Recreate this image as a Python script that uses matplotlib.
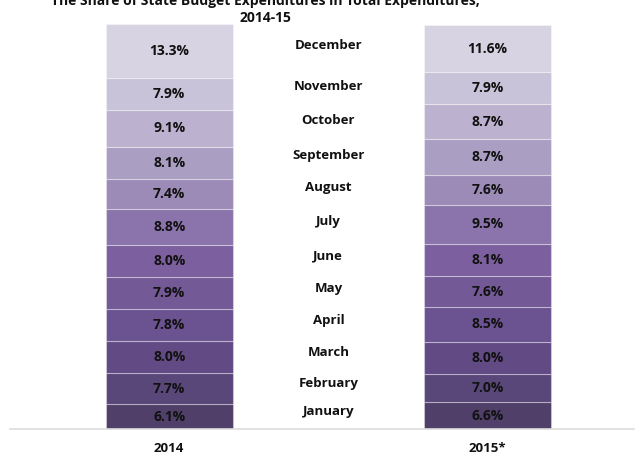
import matplotlib
matplotlib.use("Agg")
import matplotlib.pyplot as plt
import numpy as np

MONTHS = ["January", "February", "March", "April", "May", "June",
          "July", "August", "September", "October", "November", "December"]
YEARS = ["2014", "2015*"]
SHARE_2014 = [6.1, 7.7, 8.0, 7.8, 7.9, 8.0, 8.8, 7.4, 8.1, 9.1, 7.9, 13.3]
SHARE_2015 = [6.6, 7.0, 8.0, 8.5, 7.6, 8.1, 9.5, 7.6, 8.7, 8.7, 7.9, 11.6]
COLORS = ["#4f3f69", "#5a477a", "#624a85", "#6b5290", "#735995", "#7c5f9e",
          "#8b74ab", "#9d8bb7", "#aa9ec2", "#bcb2cf", "#c9c3d9", "#d7d3e3"]

plt.rcParams["font.family"] = ["Open Sans", "DejaVu Sans"]

fig = plt.figure(figsize=(6.44, 4.55), dpi=100)
ax = fig.add_axes([10 / 644, 1 - 429 / 455, 634 / 644 - 10 / 644, (429 - 24) / 455])

series = [SHARE_2014, SHARE_2015]
x = np.arange(len(YEARS))
bottoms = np.zeros(len(YEARS))
centers = []
for i, month in enumerate(MONTHS):
    vals = np.array([s[i] for s in series])
    ax.bar(x, vals, width=0.4, bottom=bottoms, color=COLORS[i],
           edgecolor=(1, 1, 1, 0.35), linewidth=0.8)
    for xi, v, b in zip(x, vals, bottoms):
        ax.text(xi, b + v / 2, f"{v:.1f}%", ha="center", va="center",
                fontsize=10, fontweight="bold", color="#111111")
    centers.append(np.mean(bottoms + vals / 2))
    bottoms = bottoms + vals

# month names sit between the bars, a little above the mean segment centre
for month, c in zip(MONTHS, centers):
    ax.text(0.5, c + 1.1, month, ha="center", va="center",
            fontsize=9.5, fontweight="bold", color="#111111")

ax.set_xlim(-0.5, 1.46)
ax.set_ylim(0, 100.1)
ax.set_xticks(x)
ax.set_xticklabels(YEARS, fontsize=9.5, fontweight="bold", color="#111111")
ax.tick_params(axis="x", length=0, pad=9)
ax.set_yticks([])
for side in ("left", "right", "top"):
    ax.spines[side].set_visible(False)
ax.spines["bottom"].set_color("#dddddd")
ax.spines["bottom"].set_linewidth(1.2)

fig.text(265 / 644, 1 - 1 / 455, "The Share of State Budget Expenditures in Total Expenditures,",
         ha="center", va="center", fontsize=10, fontweight="bold", color="#111111")
fig.text(265 / 644, 1 - 18 / 455, "2014-15", ha="center", va="center",
         fontsize=10, fontweight="bold", color="#111111")

fig.savefig("out.png", dpi=100)
